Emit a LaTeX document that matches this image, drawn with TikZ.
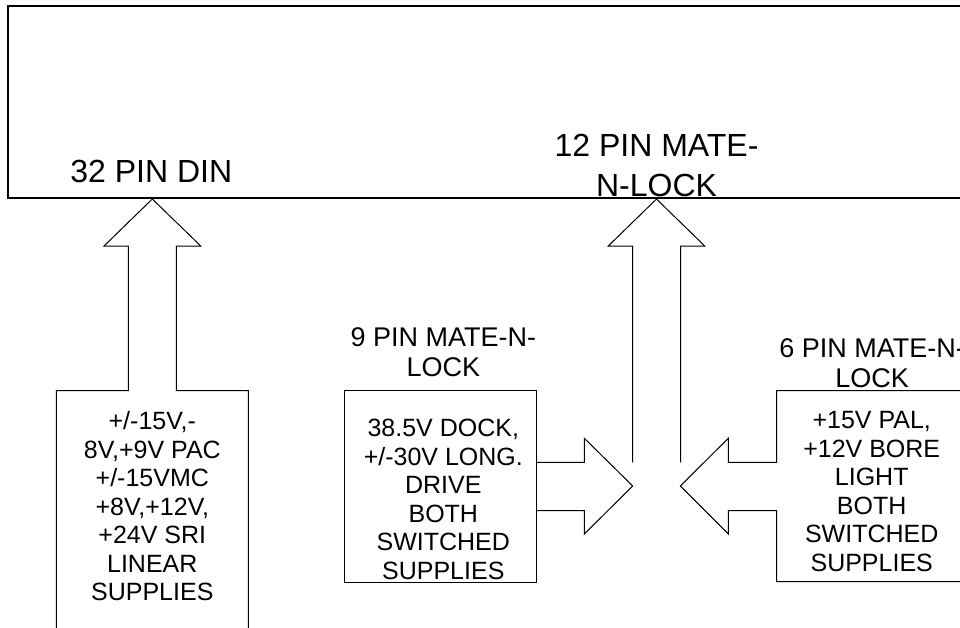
\documentclass[tikz,border=0pt]{standalone}
\usepackage{fontspec}
\setmainfont{Liberation Sans}
\begin{document}
\begin{tikzpicture}[x=1pt,y=-1pt,
  outline/.style={draw=black, line width=1pt, line join=miter},
  frame/.style={draw=black, line width=2pt},
  boxtext/.style={align=center, inner sep=0pt, anchor=base, font=\fontsize{25}{28.5}\selectfont},
  pinlabel/.style={align=center, inner sep=0pt, anchor=base, font=\fontsize{27}{29.8}\selectfont},
  toplabel/.style={align=center, inner sep=0pt, anchor=base, font=\fontsize{32}{40}\selectfont}]
\useasboundingbox (0,0) rectangle (960,628);
\clip (0,0) rectangle (960,628);
\fill[white] (0,0) rectangle (960,628);

% top panel
\coordinate (pTL) at (8,6.3);
\coordinate (pBL) at (8,198.3);
\draw[frame] (975,6.3) -- (pTL) -- (pBL) -- (975,198.3);

% top labels (anchor = baseline of last line)
\node[toplabel] (lbl32) at (151.3,182.7) {32 PIN DIN};
\node[toplabel] (lbl12) at (656.5,196.7) {12 PIN MATE-\\N-LOCK};

% connector tips on panel
\coordinate (tipL) at (152.3,199);
\coordinate (tipM) at (656.5,199);

% left box with up arrow
\draw[outline] (56.3,640) -- (56.3,390.7) -- (128.3,390.7) -- (128.3,246) -- (104,246)
  -- (tipL) -- (200.7,246) -- (176.3,246) -- (176.3,390.7) -- (248.3,390.7) -- (248.3,640);
\node[boxtext] (txtL) at (152.3,600.6) {+/-15V,-\\8V,+9V PAC\\+/-15VMC\\+8V,+12V,\\+24V SRI\\LINEAR\\SUPPLIES};

% middle up arrow (open at bottom)
\draw[outline] (632.5,462.3) -- (632.5,246) -- (608.3,246) -- (tipM) -- (704.7,246)
  -- (680.5,246) -- (680.5,462.3);

% 9 pin box and right arrow
\node[pinlabel] (lbl9) at (443.3,376) {9 PIN MATE-N-\\LOCK};
\draw[outline] (344.3,390.7) rectangle (536.7,582.7);
\coordinate (tip9) at (632.7,486);
\draw[outline] (536.7,462.3) -- (584.3,462.3) -- (584.3,438.3) -- (tip9)
  -- (584.3,534) -- (584.3,510.7) -- (536.7,510.7);
\node[boxtext] (txt9) at (443.3,579) {38.5V DOCK,\\+/-30V LONG.\\DRIVE\\BOTH\\SWITCHED\\SUPPLIES};

% 6 pin box with left arrow
\node[pinlabel] (lbl6) at (872,387.5) {6 PIN MATE-N-\\LOCK};
\coordinate (tip6) at (680.3,486);
\draw[outline] (975,390.7) -- (776.7,390.7) -- (776.7,462.3) -- (728.3,462.3) -- (728.3,438.3)
  -- (tip6) -- (728.3,534) -- (728.3,510.7) -- (776.7,510.7) -- (776.7,581.7) -- (975,581.7);
\node[boxtext] (txt6) at (871.7,571) {+15V PAL,\\+12V BORE\\LIGHT\\BOTH\\SWITCHED\\SUPPLIES};
\end{tikzpicture}
\end{document}
